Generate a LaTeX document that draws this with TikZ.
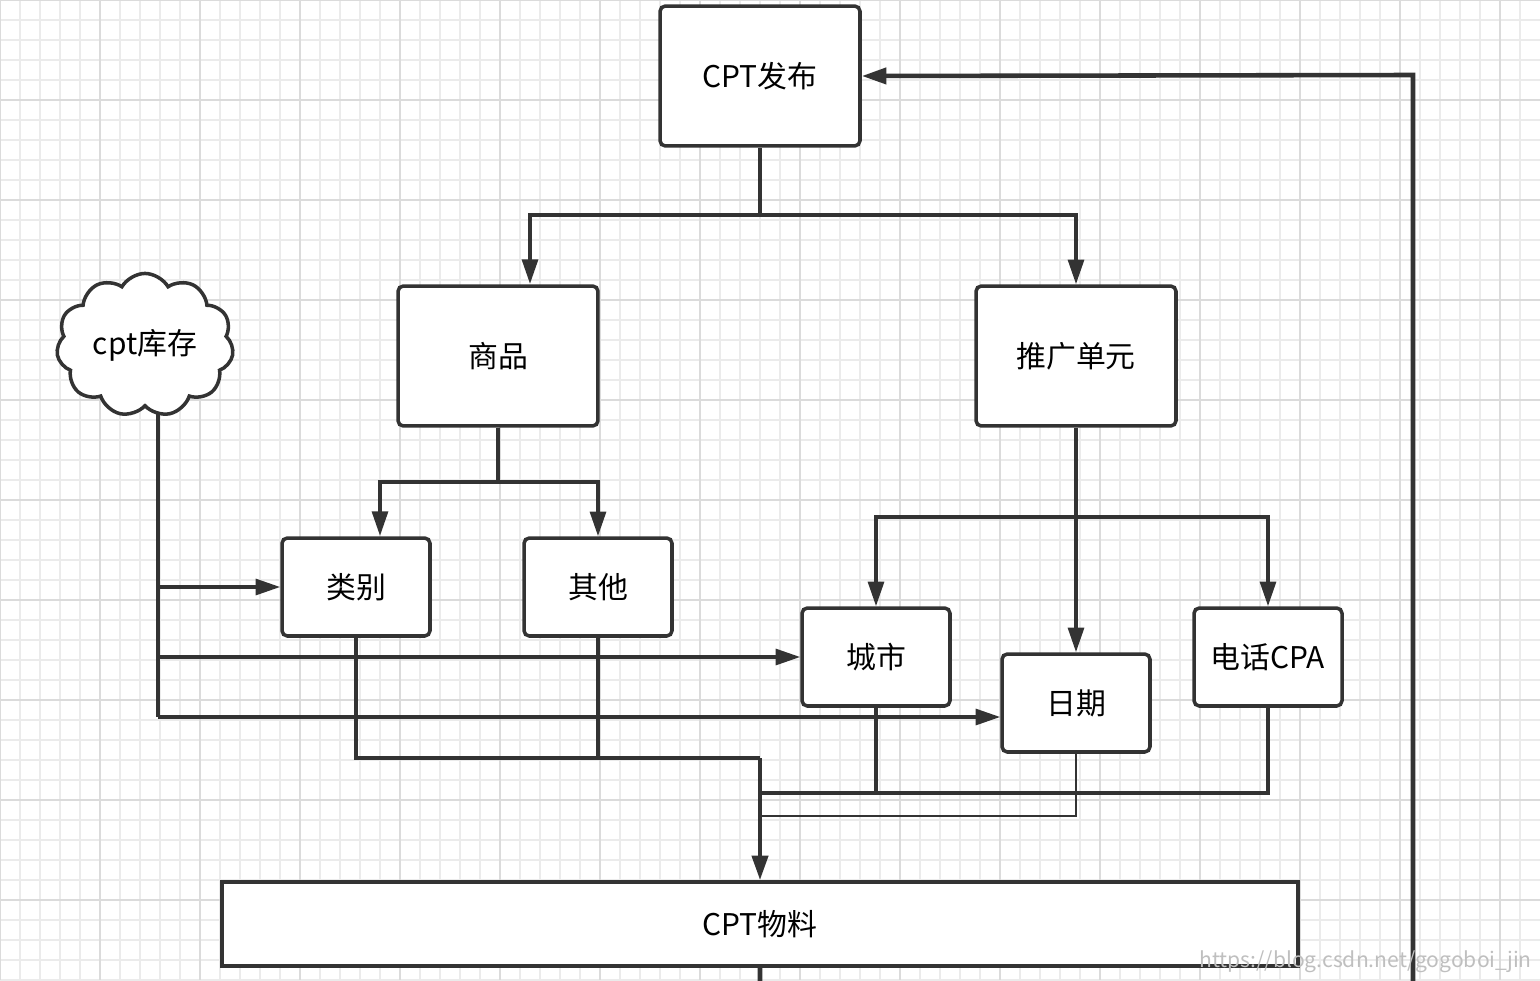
\documentclass[tikz,border=0pt]{standalone}
\usepackage{fontspec}
\setmainfont{Noto Sans CJK SC}
\usetikzlibrary{shapes.symbols,arrows.meta}
\begin{document}
\begin{tikzpicture}[x=0.02cm,y=-0.02cm,
  box/.style={draw=black!80,line width=2pt,rounded corners=3pt,fill=white,font=\fontsize{17}{20}\selectfont,inner sep=0pt},
  ln/.style={draw=black!80,line width=2pt},
  ar/.style={ln,-{Triangle[length=14pt,width=9pt]}}]
\useasboundingbox (0,0) rectangle (1540,980);
\clip (0,0) rectangle (1540,980);
\fill[white] (0,0) rectangle (1540,980);
\foreach \i in {0,20,...,1540} \draw[black!8,line width=0.6pt] (\i,0) -- (\i,980);
\foreach \j in {0,20,...,980} \draw[black!8,line width=0.6pt] (0,\j) -- (1540,\j);
\foreach \i in {0,100,...,1540} \draw[black!14,line width=0.8pt] (\i,0) -- (\i,980);
\foreach \j in {0,100,...,980} \draw[black!14,line width=0.8pt] (0,\j) -- (1540,\j);
\node[box,minimum width=4cm,minimum height=2.8cm] (pub) at (760,76) {CPT发布};
\node[box,minimum width=4cm,minimum height=2.8cm] (sp) at (498,356) {商品};
\node[box,minimum width=4cm,minimum height=2.8cm] (tg) at (1076,356) {推广单元};
\node[draw=black!80,line width=2pt,cloud,cloud puffs=11,cloud puff arc=120,aspect=1.35,minimum width=3.5cm,minimum height=2.6cm,fill=white,font=\fontsize{17}{20}\selectfont] (kc) at (145,345) {cpt库存};
\node[box,minimum width=2.96cm,minimum height=1.96cm] (lb) at (356,587) {类别};
\node[box,minimum width=2.96cm,minimum height=1.96cm] (qt) at (598,587) {其他};
\node[box,minimum width=2.96cm,minimum height=1.96cm] (cs) at (876,657) {城市};
\node[box,minimum width=2.96cm,minimum height=1.96cm] (rq) at (1076,703) {日期};
\node[box,minimum width=2.96cm,minimum height=1.96cm] (dh) at (1268,657) {电话CPA};
\node[box,rounded corners=0pt,minimum width=21.52cm,minimum height=1.68cm] (wl) at (760,924) {CPT物料};
\coordinate (j1) at (760,215);
\draw[ln] (pub.south) -- (j1);
\draw[ar] (j1) -| (530,284);
\draw[ar] (j1) -| (tg.north);
\coordinate (j2) at (498,482);
\draw[ln] (sp.south) -- (j2);
\draw[ar] (j2) -| (380,536);
\draw[ar] (j2) -| (qt.north);
\draw[ar] (tg.south) -- (rq.north);
\coordinate (j3) at (1076,517);
\draw[ar] (j3) -| (cs.north);
\draw[ar] (j3) -| (dh.north);
\coordinate (k1) at (158,587);
\coordinate (k2) at (158,657);
\coordinate (k3) at (158,717);
\draw[ln] (158,414) -- (k3);
\draw[ar] (k1) -- (lb.west);
\draw[ar] (k2) -- (cs.west);
\draw[ar] (k3) -- (rq.west |- k3);
\coordinate (m) at (760,758);
\draw[ln] (lb.south) |- (m);
\draw[ln] (qt.south) |- (m);
\draw[ar,line width=2.6pt] (m) -- (wl.north);
\draw[ln] (cs.south) |- (760,793);
\draw[ln] (dh.south) |- (760,793);
\draw[ln,line width=1.4pt] (rq.south) |- (760,816);
\draw[ar,line width=2.6pt] (wl.south) -- (760,1000) -| (1413,75) -- (pub.east);
\node[text=black!25,font=\fontsize{12}{14}\selectfont,anchor=east] (wm) at (1538,962) {https://blog.csdn.net/gogoboi\_jin};
\end{tikzpicture}
\end{document}
